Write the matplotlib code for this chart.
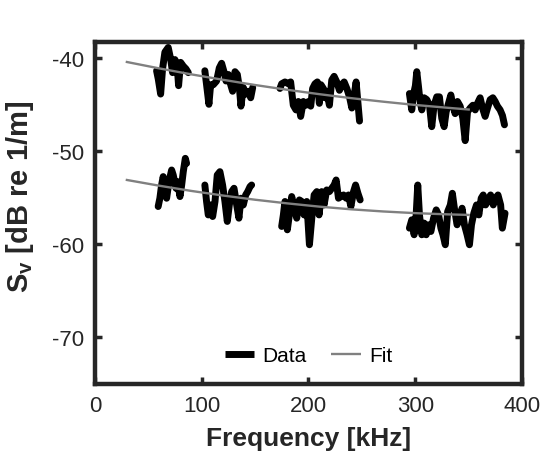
import numpy as np
import matplotlib
matplotlib.use("Agg")
import matplotlib.pyplot as plt

plt.rcParams['font.family'] = ['Liberation Sans', 'DejaVu Sans']
plt.rcParams['mathtext.fontset'] = 'custom'
plt.rcParams['mathtext.rm'] = 'Liberation Sans:bold'
plt.rcParams['mathtext.it'] = 'Liberation Sans:bold'
plt.rcParams['mathtext.bf'] = 'Liberation Sans:bold'
plt.rcParams['axes.unicode_minus'] = False

# ---- upper series (data) ----
up1_f = [57.8, 59.4, 61.6, 63.4, 65.6, 68.7, 70.9, 72.8, 75.0, 77.1, 78.4, 80.3, 82.8, 85.3, 87.5]
up1_v = [-41.4, -42.3, -43.9, -41.2, -39.4, -38.9, -40.1, -41.6, -40.2, -40.9, -43.0, -40.5, -40.9, -41.2, -41.6]

up2_f = [103.0, 104.6, 106.8, 108.4, 110.9, 114.0, 116.5, 118.7, 120.9, 122.8, 125.0, 127.2, 129.0,
         131.2, 133.4, 135.3, 136.8, 139.0, 141.5, 143.7, 145.9, 147.8]
up2_v = [-41.4, -42.9, -45.0, -42.9, -42.9, -42.5, -41.1, -40.6, -41.5, -42.5, -41.8, -42.9, -43.6,
         -41.5, -41.8, -43.2, -45.2, -43.2, -43.9, -43.6, -44.3, -43.2]

up3_f = [173.3, 174.9, 178.0, 181.2, 183.3, 185.8, 188.3, 190.5, 192.7, 195.2, 197.7, 199.9, 202.1,
         203.9, 206.1, 208.3, 210.2, 211.7, 213.9, 215.5, 217.1, 219.6, 221.8, 224.0, 226.5, 229.0,
         231.2, 233.4, 235.9, 238.4, 240.6, 242.8, 244.6, 246.2, 247.8]
up3_v = [-43.3, -42.8, -42.6, -42.8, -42.6, -45.1, -45.6, -44.7, -46.3, -44.7, -45.1, -44.7, -45.2,
         -43.3, -42.8, -42.6, -44.9, -42.9, -43.3, -44.3, -43.6, -45.1, -42.4, -42.0, -42.6, -43.5,
         -42.9, -42.6, -43.3, -44.2, -45.4, -44.0, -42.6, -44.7, -46.8]

up4_f = [294.5, 296.7, 298.2, 300.1, 301.4, 302.9, 304.5, 306.1, 308.3, 310.8, 313.3, 315.4, 317.6,
         320.1, 322.6, 324.8, 327.0, 328.9, 331.1, 333.3, 335.1, 337.3, 339.5, 342.0, 344.5, 346.7,
         348.9, 351.4, 353.9, 356.1, 358.2, 360.7, 362.9, 365.4, 367.6, 370.1, 372.6, 374.8, 376.9,
         379.4, 381.6, 383.5]
up4_v = [-43.85, -45.6, -44.0, -43.0, -41.5, -43.0, -44.7, -45.6, -44.3, -44.5, -45.1, -47.4, -45.1,
         -44.2, -44.2, -46.5, -47.4, -45.8, -44.9, -44.0, -45.1, -46.0, -44.7, -45.2, -46.5, -48.9,
         -45.8, -45.4, -45.1, -45.6, -44.9, -44.3, -45.4, -46.3, -45.4, -44.5, -44.3, -44.7, -45.2,
         -45.6, -46.2, -47.2]

# ---- lower series (data) ----
lo1_f = [59.3, 60.9, 62.5, 64.0, 65.6, 67.2, 69.4, 71.9, 73.4, 76.0, 77.5, 79.7, 81.3, 82.8, 84.7, 85.9]
lo1_v = [-55.97, -55.08, -53.66, -52.76, -54.0, -55.08, -53.3, -52.05, -52.59, -54.01, -53.3, -54.9,
         -53.66, -52.23, -50.8, -51.34]

lo2_f = [103.0, 104.6, 106.2, 108.4, 110.3, 112.5, 114.6, 117.1, 119.6, 121.8, 124.0, 125.9, 128.1,
         130.3, 132.8, 134.9, 136.8, 139.0, 141.2, 143.1, 145.3, 146.8]
lo2_v = [-53.66, -55.43, -56.87, -55.8, -57.04, -55.43, -52.59, -52.23, -53.66, -55.43, -57.57, -55.8,
         -54.37, -54.01, -55.8, -57.22, -55.08, -55.8, -54.73, -54.37, -53.83, -53.66]

lo3_f = [174.9, 176.5, 178.0, 180.2, 182.1, 184.3, 186.5, 189.0, 191.5, 193.7, 195.9, 198.4, 200.9,
         203.1, 205.3, 207.8, 209.9, 212.4, 214.6, 217.1, 219.6, 221.8, 224.0, 225.9, 228.1, 230.3,
         232.8, 235.3, 237.5, 239.7, 242.2, 244.1, 246.3, 248.4]
lo3_v = [-58.11, -56.87, -55.43, -58.47, -56.87, -54.9, -55.97, -57.22, -55.26, -55.43, -56.87, -55.43,
         -60.07, -57.22, -54.73, -54.37, -56.87, -54.37, -55.8, -54.19, -54.37, -54.01, -53.66, -53.12,
         -55.08, -54.9, -54.73, -55.08, -54.73, -55.97, -54.37, -53.66, -54.55, -55.26]

lo4_f = [294.5, 296.7, 298.9, 300.8, 302.3, 303.9, 306.1, 308.3, 310.2, 312.4, 314.6, 317.1, 319.6,
         321.8, 324.0, 325.9, 328.1, 330.3, 332.8, 334.7, 336.6, 339.1, 341.6, 343.8, 346.0, 348.5,
         350.7, 352.6, 354.8, 357.3, 359.5, 361.7, 363.6, 365.8, 368.0, 370.5, 373.0, 375.2, 377.4,
         379.9, 381.5, 384.0]
lo4_v = [-58.29, -57.4, -59.0, -56.87, -53.66, -56.87, -59.0, -57.75, -59.0, -57.93, -58.65, -57.22,
         -56.33, -56.87, -58.29, -59.0, -60.07, -56.51, -55.8, -54.55, -56.15, -57.93, -57.22, -56.15,
         -57.93, -59.0, -60.07, -57.93, -56.69, -55.8, -56.87, -55.08, -54.73, -55.8, -55.26, -54.73,
         -55.8, -55.08, -54.73, -55.8, -58.29, -56.69]

# ---- fits ----
fit_f = [30, 60, 90, 120, 150, 180, 210, 240, 270, 300, 330, 350]
fit_up = [-40.46, -41.14, -41.78, -42.37, -42.93, -43.44, -43.91, -44.34, -44.72, -45.07, -45.37, -45.56]
fit_lo = [-53.12, -53.73, -54.29, -54.79, -55.24, -55.63, -55.98, -56.27, -56.50, -56.68, -56.81, -56.87]

xticks = [0, 100, 200, 300, 400]
yticks = [-70, -60, -50, -40]

fig = plt.figure(figsize=(5.45, 4.56), dpi=100)
ax = fig.add_axes([0.174, 0.156, 0.784, 0.750])

segments = [(up1_f, up1_v), (up2_f, up2_v), (up3_f, up3_v), (up4_f, up4_v),
            (lo1_f, lo1_v), (lo2_f, lo2_v), (lo3_f, lo3_v), (lo4_f, lo4_v)]
for i, (f, v) in enumerate(segments):
    ax.plot(f, v, color='black', lw=5.0, solid_joinstyle='round', solid_capstyle='round',
            label='Data' if i == 0 else None, zorder=2)

ax.plot(fit_f, fit_up, color='#808080', lw=1.7, label='Fit', zorder=3)
ax.plot(fit_f, fit_lo, color='#808080', lw=1.7, zorder=3)

ax.set_xlim(0, 400)
ax.set_ylim(-75, -38.3)
ax.set_xticks(xticks)
ax.set_yticks(yticks)
ax.tick_params(direction='in', length=5, width=2.5, color='#262626', labelsize=16,
               labelcolor='#262626', top=True, right=True, pad=8)
for s in ax.spines.values():
    s.set_linewidth(3.2)
    s.set_color('#262626')

ax.set_xlabel('Frequency [kHz]', fontsize=19, fontweight='bold', color='#262626', labelpad=7)
ax.set_ylabel(r'S$_{\mathrm{v}}$ [dB re 1/m]', fontsize=21, fontweight='bold', color='#262626')
ax.yaxis.set_label_coords(-0.138, 0.55)

leg = ax.legend(loc='lower center', ncol=2, frameon=False, fontsize=15, handlelength=1.4,
                columnspacing=1.2, handletextpad=0.4, bbox_to_anchor=(0.5, 0.0))
for h in leg.get_lines():
    h.set_solid_capstyle('butt')

fig.savefig('out.png', dpi=100)
